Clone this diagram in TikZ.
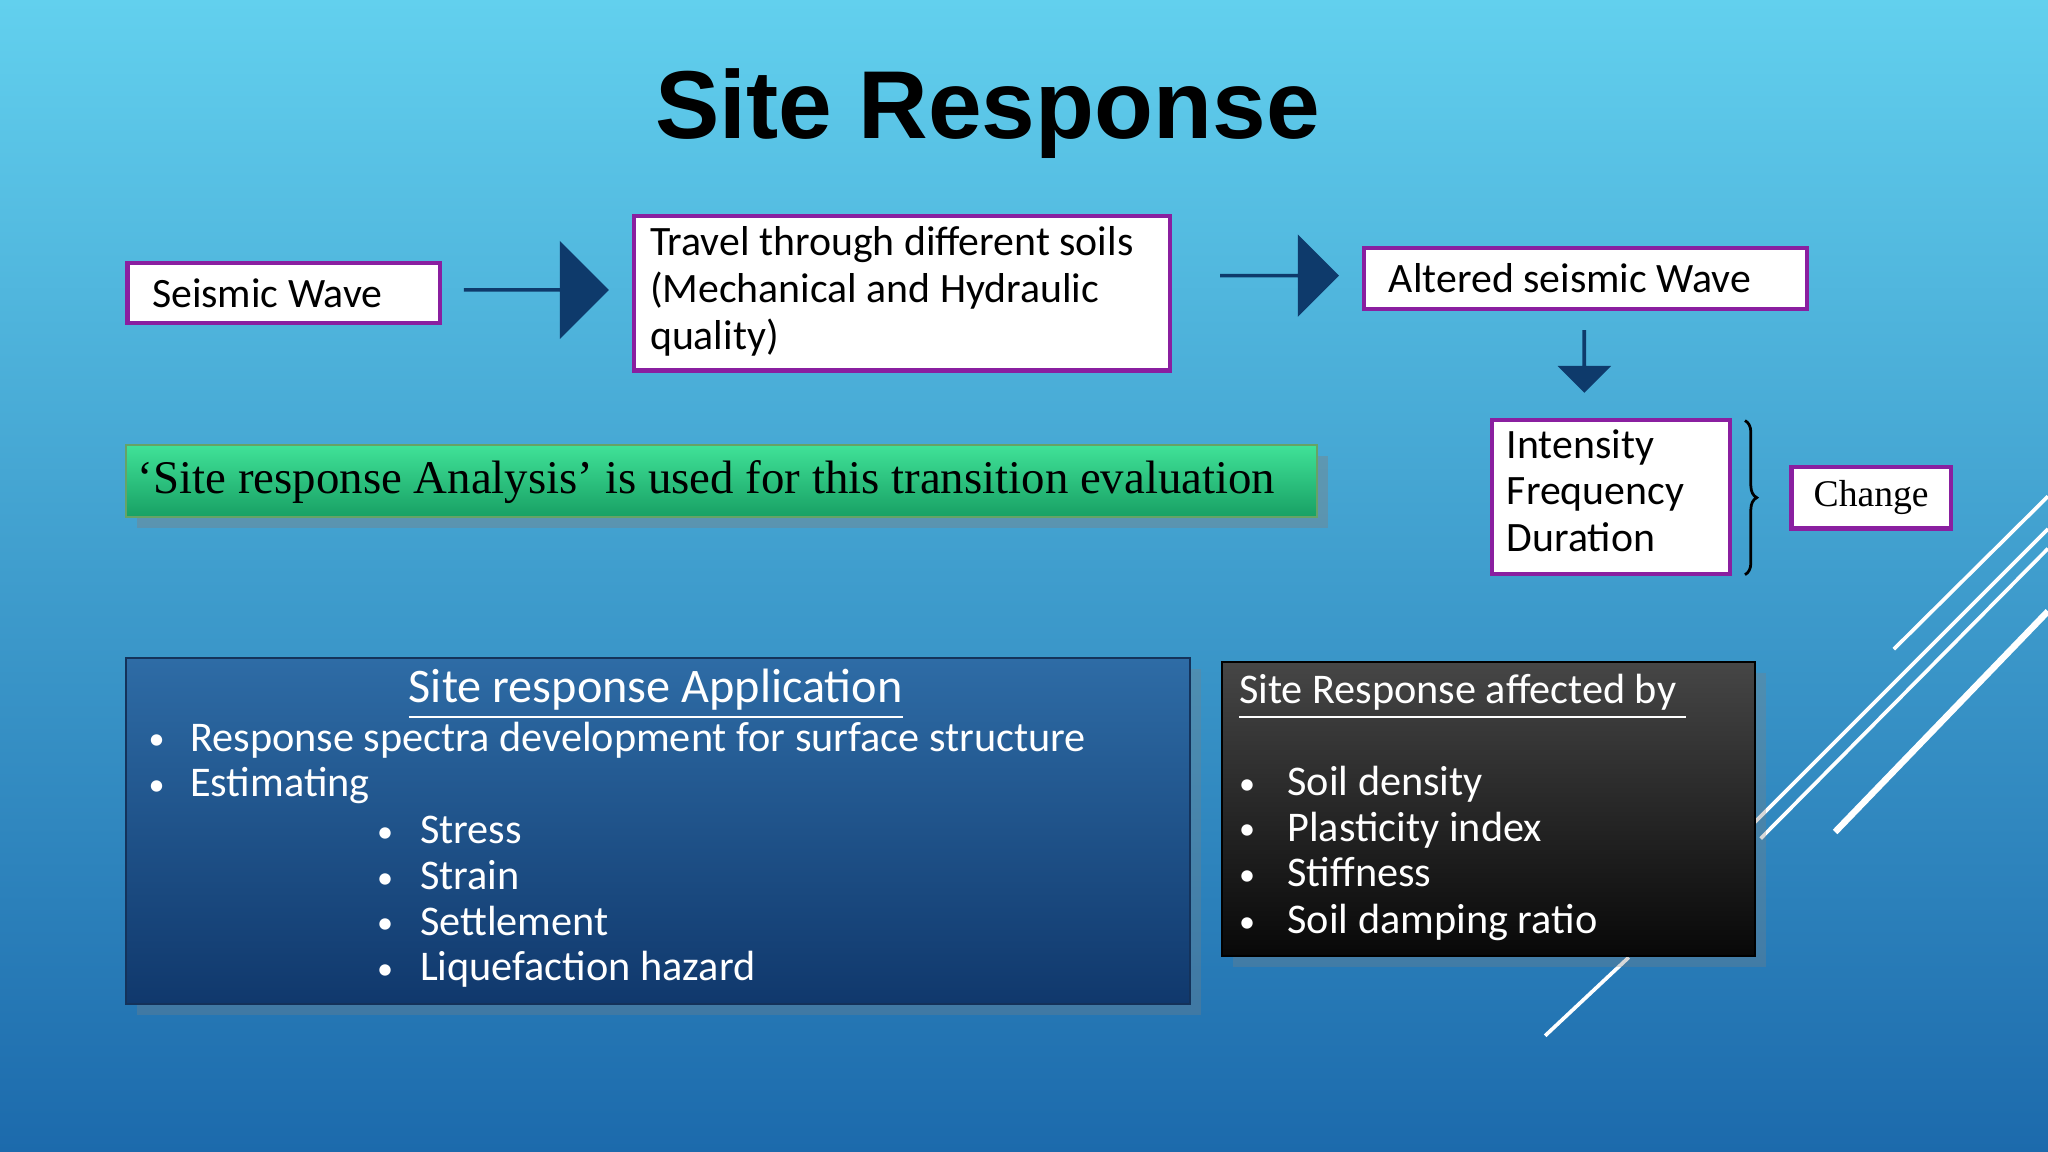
\documentclass[tikz,border=0pt]{standalone}
\usepackage{fontspec}
\setmainfont{Carlito}
\newfontfamily\titlefont{Liberation Sans}
\newfontfamily\seriffont{Liberation Serif}
\usetikzlibrary{positioning,arrows.meta,shapes.arrows,decorations.pathreplacing,shadows}
\definecolor{navyarrow}{HTML}{0E3A6B}
\definecolor{boxline}{HTML}{8A1FA0}
\tikzset{
  wbox/.style={draw=boxline, line width=0.9pt, fill=white, align=left, anchor=north west,
    inner sep=0pt, font=\fontsize{9.1}{10.2}\selectfont},
  barrow/.style={single arrow, fill=navyarrow, draw=none, inner sep=0pt},
  bline/.style={anchor=base west, inner sep=0pt, white, font=\fontsize{9.2}{10}\selectfont},
  deco/.style={white, line width=0.8pt}
}
\begin{document}
\begin{tikzpicture}[x=0.01cm,y=-0.01cm]
  % background
  \fill[top color={rgb,255:red,98;green,208;blue,238}, bottom color={rgb,255:red,28;green,106;blue,172}]
    (0,0) rectangle (1568,882);
  \useasboundingbox (0,0) rectangle (1568,882);
  % decorative lines
  \draw[deco] (1450,497) -- (1568,380);
  \draw[deco] (1343,630) -- (1568,405);
  \draw[deco] (1348,642) -- (1568,420);
  \draw[deco, line width=1.4pt] (1405,637) -- (1568,468);
  \draw[deco] (1183,793) -- (1247,733);
  % title
  \node[font=\titlefont\bfseries\fontsize{21}{24}\selectfont] (title) at (756,87) {Site Response};
  % flow boxes
  \node[wbox, minimum width=2.39cm, minimum height=0.46cm] (seismic) at (96,200) {};
  \node[anchor=west, font=\fontsize{9.1}{10.2}\selectfont] at ([xshift=0.08cm]seismic.west) {Seismic Wave};
  \node[wbox, minimum width=4.10cm, minimum height=1.18cm] (travel) at (484,164) {};
  \node[anchor=north west, align=left, inner sep=0pt, font=\fontsize{9.1}{10.2}\selectfont]
    at (497,173) {Travel through different soils\\(Mechanical and Hydraulic\\quality)};
  \node[wbox, minimum width=3.39cm, minimum height=0.47cm] (altered) at (1043,188) {};
  \node[anchor=west, font=\fontsize{9.1}{10.2}\selectfont] at ([xshift=0.08cm]altered.west) {Altered seismic Wave};
  \node[wbox, minimum width=1.82cm, minimum height=1.18cm] (props) at (1141,320) {};
  \node[anchor=north west, align=left, inner sep=0pt, font=\fontsize{9.1}{10.2}\selectfont]
    at (1153,328) {Intensity\\Frequency\\Duration};
  \node[wbox, minimum width=1.22cm, minimum height=0.47cm] (change) at (1370,356) {};
  \node[font=\seriffont\fontsize{8.2}{10}\selectfont] at (change.center) {Change};
  % block arrows
  \node[barrow, minimum width=0.75cm, minimum height=1.11cm, single arrow head extend=0.185cm] (arrA) at (410,222) {};
  \node[barrow, minimum width=0.63cm, minimum height=0.91cm, single arrow head extend=0.16cm] (arrB) at (979,211) {};
  \node[barrow, shape border rotate=270, minimum width=0.41cm, minimum height=0.48cm, single arrow head extend=0.095cm]
    (arrC) at (1213,276) {};
  % brace
  \draw[line width=0.6pt, decorate, decoration={brace, amplitude=0.09cm}] (1336,322) -- (1336,440);
  % green bar
  \node[draw=green!40!black!60, line width=0.4pt, minimum width=9.11cm, minimum height=0.55cm, anchor=north west,
    top color={rgb,255:red,64;green,226;blue,152}, bottom color={rgb,255:red,24;green,160;blue,100},
    drop shadow={opacity=0.4}] (bar) at (96,340) {};
  \node[font=\seriffont\fontsize{10.2}{12}\selectfont] at (541,369)
    {‘Site response Analysis’ is used for this transition evaluation};
  % blue panel
  \node[anchor=north west, minimum width=8.14cm, minimum height=2.65cm, inner sep=0pt, draw={rgb,255:red,20;green,50;blue,90},
    top color={rgb,255:red,46;green,108;blue,166}, bottom color={rgb,255:red,16;green,56;blue,108},
    drop shadow={opacity=0.3}] (appl) at (96,503) {};
  \node[anchor=base, white, inner sep=0pt, font=\fontsize{10.5}{12}\selectfont] (applhead) at (502,538)
    {\underline{Site response Application}};
  \foreach \y/\bx/\tx/\txt in {565/113/145/Response spectra development for surface structure,
      600/113/145/Estimating, 636/288/321/Stress, 671/288/321/Strain,
      706/288/321/Settlement, 741/288/321/Liquefaction hazard} {
    \node[bline] at (\bx,\y+9) {\fontsize{7}{8}\selectfont•};
    \node[bline] at (\tx,\y+10) {\txt};
  }
  % black panel
  \node[anchor=north west, minimum width=4.08cm, minimum height=2.25cm, inner sep=0pt, draw=black,
    top color={rgb,255:red,70;green,70;blue,70}, bottom color={rgb,255:red,8;green,8;blue,8},
    drop shadow={opacity=0.3}] (affect) at (935,506) {};
  \node[bline] (affecthead) at (948,539) {\underline{Site Response affected by\ }};
  \foreach \y/\txt in {599/Soil density, 634/Plasticity index, 669/Stiffness, 705/Soil damping ratio} {
    \node[bline] at (948,\y+9) {\fontsize{7}{8}\selectfont•};
    \node[bline] at (985,\y+10) {\txt};
  }
\end{tikzpicture}
\end{document}
